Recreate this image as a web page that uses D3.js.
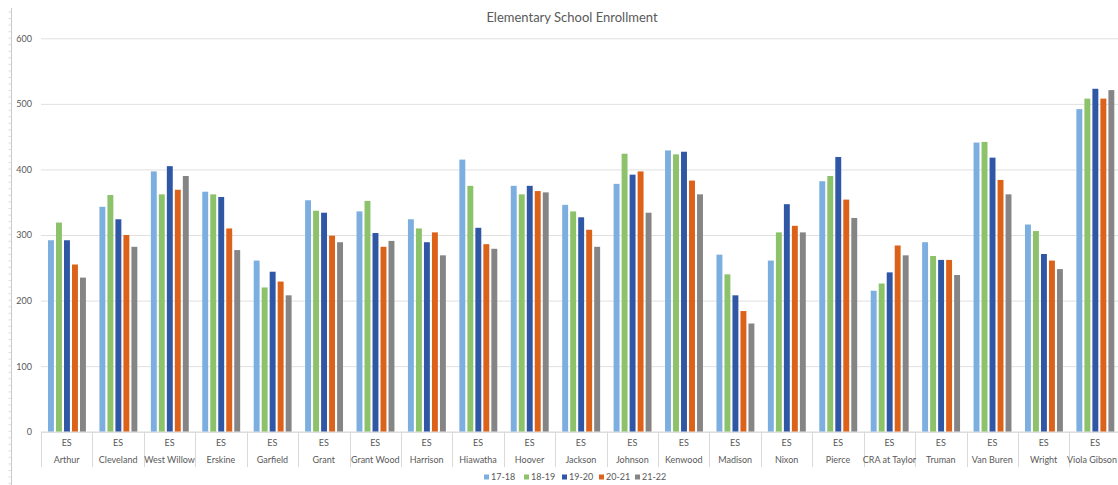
<!DOCTYPE html>
<html lang="en">
<head>
<meta charset="UTF-8">
<title>Elementary School Enrollment</title>
<script src="https://d3js.org/d3.v7.min.js"></script>
<style>
  html, body { margin: 0; padding: 0; background: #fff; overflow: hidden; }
  body { font-family: Lato, "Open Sans", sans-serif; }
  svg { display: block; }
  .tick-label { font-size: 9px; fill: #595959; }
</style>
</head>
<body>
<svg id="chart" width="1118" height="485"></svg>
<script>
const schools = ["Arthur", "Cleveland", "West Willow", "Erskine", "Garfield", "Grant", "Grant Wood",
  "Harrison", "Hiawatha", "Hoover", "Jackson", "Johnson", "Kenwood", "Madison", "Nixon", "Pierce",
  "CRA at Taylor", "Truman", "Van Buren", "Wright", "Viola Gibson"];
const level = "ES";
const years = ["17-18", "18-19", "19-20", "20-21", "21-22"];

const y1718 = [292, 343, 397, 366, 261, 353, 336, 324, 415, 375, 346, 378, 429, 270, 261, 382, 215, 289, 441, 316, 492];
const y1819 = [319, 361, 362, 362, 220, 337, 352, 310, 375, 362, 336, 424, 423, 240, 304, 390, 226, 268, 442, 306, 508];
const y1920 = [292, 324, 405, 358, 244, 334, 303, 289, 311, 375, 327, 392, 427, 208, 347, 419, 243, 262, 418, 271, 523];
const y2021 = [255, 300, 369, 310, 229, 299, 282, 304, 286, 367, 308, 397, 383, 184, 314, 354, 284, 262, 384, 261, 508];
const y2122 = [235, 282, 390, 277, 208, 289, 291, 269, 279, 365, 282, 334, 362, 165, 304, 326, 269, 239, 362, 248, 521];

const yTicks = [0, 100, 200, 300, 400, 500, 600];
const colors = ["#7cafdf", "#8cc26a", "#2f57a5", "#dc6219", "#858585"];

const series = [y1718, y1819, y1920, y2021, y2122];
const data = schools.map((s, i) => ({
  school: s,
  values: years.map((yr, j) => ({ year: yr, value: series[j][i] }))
}));

const W = 1118;
const svg = d3.select("#chart");
const plotLeft = 41, bandW = 51.42, plotTop = 38.3, plotBottom = 431.7;

const x0 = d3.scaleBand().domain(schools).range([plotLeft, plotLeft + bandW * schools.length]).padding(0);
const x1 = d3.scaleBand().domain(years).range([7, bandW - 6.5]).paddingInner(0.26);
const y = d3.scaleLinear().domain([0, 600]).range([plotBottom, plotTop]);

// ruler line on the far left
svg.append("line").attr("x1", 11.5).attr("x2", 11.5).attr("y1", 8).attr("y2", 485)
  .attr("stroke", "#c8c8c8").attr("stroke-width", 1);
svg.append("g").selectAll("line").data(d3.range(12, 485, 6.55)).join("line")
  .attr("x1", 8.5).attr("x2", 11.5).attr("y1", d => d).attr("y2", d => d)
  .attr("stroke", "#d4d4d4").attr("stroke-width", 0.8);

// title
svg.append("text").attr("x", 572).attr("y", 22).attr("text-anchor", "middle")
  .attr("font-size", 13).attr("fill", "#595959").text("Elementary School Enrollment");

// y axis with gridlines
const yAxis = svg.append("g").attr("transform", `translate(${plotLeft},0)`)
  .call(d3.axisLeft(y).tickValues(yTicks).tickSize(-(W - plotLeft)).tickPadding(9));
yAxis.select(".domain").remove();
yAxis.selectAll(".tick line").attr("stroke", "#e0e0e0").attr("stroke-width", 1);
yAxis.selectAll(".tick text").attr("class", "tick-label").attr("dy", "0.32em");
yAxis.attr("font-family", null).attr("font-size", null);

// bars
const groups = svg.append("g").selectAll("g").data(data).join("g")
  .attr("transform", d => `translate(${x0(d.school)},0)`);
groups.selectAll("rect").data(d => d.values).join("rect")
  .attr("x", d => x1(d.year))
  .attr("y", d => y(d.value))
  .attr("width", x1.bandwidth())
  .attr("height", d => y(0) - y(d.value))
  .attr("fill", (d, i) => colors[i]);

// category axis (two levels)
const xAxis = svg.append("g");
xAxis.append("line").attr("x1", plotLeft).attr("x2", W).attr("y1", plotBottom + 0.5).attr("y2", plotBottom + 0.5)
  .attr("stroke", "#d9d9d9");
xAxis.selectAll("line.sep").data(schools.concat(["end"])).join("line").attr("class", "sep")
  .attr("x1", (d, i) => Math.round(plotLeft + i * bandW) + 0.5)
  .attr("x2", (d, i) => Math.round(plotLeft + i * bandW) + 0.5)
  .attr("y1", plotBottom).attr("y2", 467)
  .attr("stroke", "#d9d9d9");
xAxis.selectAll("text.lvl").data(schools).join("text").attr("class", "tick-label")
  .attr("x", d => x0(d) + bandW / 2).attr("y", 446).attr("text-anchor", "middle").text(level);
xAxis.selectAll("text.name").data(schools).join("text").attr("class", "tick-label")
  .attr("x", d => x0(d) + bandW / 2).attr("y", 463).attr("text-anchor", "middle").text(d => d)
  .each(function () {
    // keep the last label inside the window
    const b = this.getBBox();
    if (b.x + b.width > W - 1) d3.select(this).attr("text-anchor", "end").attr("x", W - 1);
  });

// legend
const legendX = [484, 524, 562, 599, 635];
const legend = svg.append("g").selectAll("g").data(years).join("g")
  .attr("transform", (d, i) => `translate(${legendX[i]},480)`);
legend.append("rect").attr("x", 0).attr("y", -5.5).attr("width", 5).attr("height", 5)
  .attr("fill", (d, i) => colors[i]);
legend.append("text").attr("class", "tick-label").attr("x", 7).attr("y", 0).attr("dy", "0.05em").text(d => d);
</script>
</body>
</html>
